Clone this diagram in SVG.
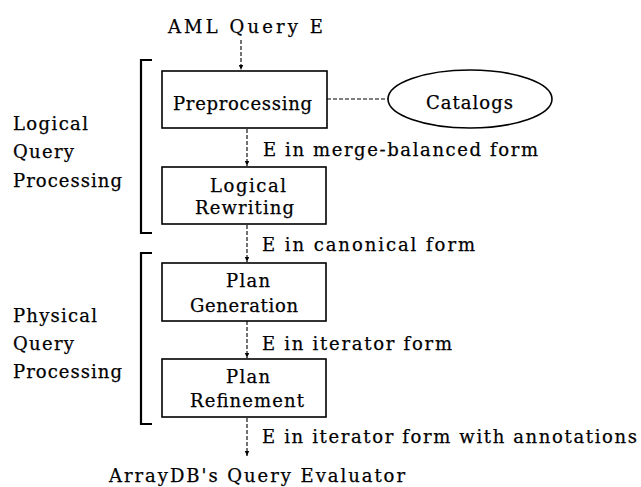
<svg xmlns="http://www.w3.org/2000/svg" width="641" height="487" viewBox="0 0 641 487">
<defs>
<style>
text{font-family:"DejaVu Serif",serif;font-size:18px;fill:#000;stroke:#000;stroke-width:0.25}
.box{fill:#fff;stroke:#000;stroke-width:1.6}
.br{fill:none;stroke:#000;stroke-width:2.2}
.ar{fill:none;stroke:#000;stroke-width:1.1;stroke-dasharray:4 2}
</style>
<marker id="ah" markerWidth="6" markerHeight="6" refX="5" refY="3" orient="auto" markerUnits="userSpaceOnUse">
<path d="M0,0.8 L5,3 L0,5.2 z" fill="#000"/>
</marker>
</defs>
<rect width="641" height="487" fill="#fff"/>

<g id="connectors">
<line class="ar" x1="241" y1="40" x2="241" y2="70" marker-end="url(#ah)"/>
<line class="ar" x1="247" y1="129" x2="247" y2="166" marker-end="url(#ah)"/>
<line class="ar" x1="247" y1="225" x2="247" y2="262" marker-end="url(#ah)"/>
<line class="ar" x1="247" y1="321" x2="247" y2="358" marker-end="url(#ah)"/>
<line class="ar" x1="247" y1="418" x2="247" y2="456" marker-end="url(#ah)"/>
<line class="ar" x1="327" y1="99" x2="388" y2="99"/>
<text x="263" y="156" textLength="275">E in merge-balanced form</text>
<text x="262" y="251" textLength="213">E in canonical form</text>
<text x="262" y="350" textLength="190">E in iterator form</text>
<text x="262" y="443" textLength="375">E in iterator form with annotations</text>
</g>

<g id="input">
<text x="168" y="33" textLength="155">AML Query E</text>
</g>

<g id="output">
<text x="109" y="482" textLength="296">ArrayDB's Query Evaluator</text>
</g>

<g id="logical-group">
<path class="br" d="M152,60 H141 V233 H152"/>
<text x="13" y="130" textLength="75">Logical</text>
<text x="13" y="158" textLength="61">Query</text>
<text x="13" y="187" textLength="109">Processing</text>
</g>

<g id="physical-group">
<path class="br" d="M152,253 H141 V424 H152"/>
<text x="13" y="322" textLength="84">Physical</text>
<text x="13" y="350" textLength="61">Query</text>
<text x="13" y="378" textLength="109">Processing</text>
</g>

<g id="preprocessing">
<rect class="box" x="162" y="71" width="165" height="57"/>
<text x="173" y="110" textLength="139">Preprocessing</text>
</g>

<g id="catalogs">
<ellipse cx="470" cy="99" rx="82" ry="29" fill="#fff" stroke="#000" stroke-width="1.6"/>
<text x="426" y="109" textLength="87">Catalogs</text>
</g>

<g id="logical-rewriting">
<rect class="box" x="162" y="167" width="164" height="57"/>
<text x="210" y="192" textLength="76">Logical</text>
<text x="195" y="214" textLength="99">Rewriting</text>
</g>

<g id="plan-generation">
<rect class="box" x="162" y="263" width="164" height="58"/>
<text x="226" y="287" textLength="44">Plan</text>
<text x="190" y="312" textLength="108">Generation</text>
</g>

<g id="plan-refinement">
<rect class="box" x="162" y="359" width="164" height="58"/>
<text x="226" y="383" textLength="44">Plan</text>
<text x="190" y="407" textLength="114">Refinement</text>
</g>
</svg>
